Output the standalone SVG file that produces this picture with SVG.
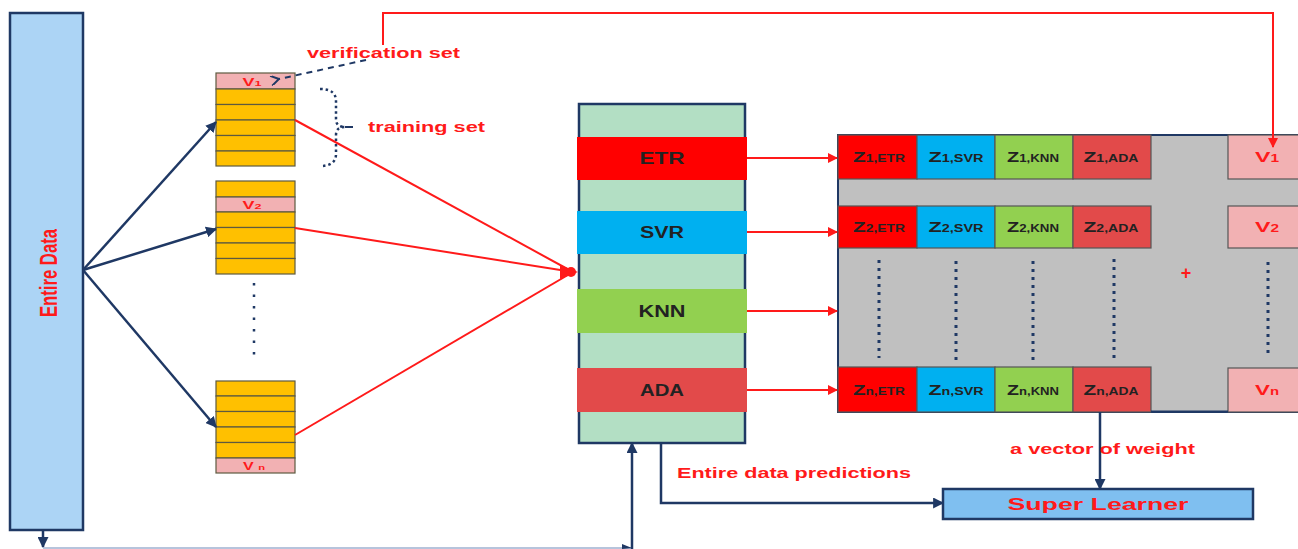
<svg xmlns="http://www.w3.org/2000/svg" width="1298" height="549" viewBox="0 0 1298 549">
<defs>
<style>
.nv{stroke:#1f3864;stroke-width:2.5;fill:none}
.rd{stroke:#ff1a1a;stroke-width:2;fill:none}
.cell{stroke:#5e5a40;stroke-width:1.2}
.y{fill:#ffc000}
.pk{fill:#f2b1b3}
.lbl{font-family:"Liberation Sans",Arial,sans-serif;font-weight:bold;fill:#ff1a1a}
.mdl{font-family:"Liberation Sans",Arial,sans-serif;font-weight:bold;font-size:16px;fill:#222;text-anchor:middle}
.z{font-family:"Liberation Sans",Arial,sans-serif;font-weight:bold;font-size:15px;fill:#222;text-anchor:middle}
.sub{font-size:10px}
.vt{font-family:"Liberation Sans",Arial,sans-serif;font-weight:bold;fill:#ff1a1a;text-anchor:middle}
.zc{stroke:#555;stroke-width:1.2}
.dot{stroke:#1f3864;stroke-width:3;stroke-dasharray:3 5;fill:none}
</style>
<marker id="an" viewBox="0 0 10 10" refX="9" refY="5" markerWidth="11" markerHeight="11" markerUnits="userSpaceOnUse" orient="auto"><path d="M0,0 L10,5 L0,10 Z" fill="#1f3864"/></marker>
<marker id="ar" viewBox="0 0 10 10" refX="9" refY="5" markerWidth="11" markerHeight="10" markerUnits="userSpaceOnUse" orient="auto"><path d="M0,0 L10,5 L0,10 Z" fill="#ff1a1a"/></marker>
<marker id="ao" viewBox="0 0 10 10" refX="1" refY="5" markerWidth="10" markerHeight="10" markerUnits="userSpaceOnUse" orient="auto"><path d="M9,0 L1,5 L9,10" fill="none" stroke="#1f3864" stroke-width="2"/></marker>
</defs>

<g id="entire-data">
<rect x="10" y="13" width="73" height="517" fill="#acd4f5" stroke="#1f3864" stroke-width="2.5"/>
<text class="lbl" transform="translate(57,273) rotate(-90)" text-anchor="middle" font-size="24" textLength="88" lengthAdjust="spacingAndGlyphs">Entire Data</text>
</g>

<g id="block1">
<rect class="pk cell" x="216" y="73" width="79" height="16"/>
<rect class="y cell" x="216" y="89" width="79" height="15.5"/>
<rect class="y cell" x="216" y="104.5" width="79" height="15.5"/>
<rect class="y cell" x="216" y="120" width="79" height="15.5"/>
<rect class="y cell" x="216" y="135.5" width="79" height="15.5"/>
<rect class="y cell" x="216" y="151" width="79" height="15"/>
<text class="vt" x="252" y="86" font-size="10" textLength="19" lengthAdjust="spacingAndGlyphs">V<tspan font-size="7">1</tspan></text>
</g>

<g id="block2">
<rect class="y cell" x="216" y="181" width="79" height="16"/>
<rect class="pk cell" x="216" y="197" width="79" height="15"/>
<rect class="y cell" x="216" y="212" width="79" height="15.5"/>
<rect class="y cell" x="216" y="227.5" width="79" height="15.5"/>
<rect class="y cell" x="216" y="243" width="79" height="15.5"/>
<rect class="y cell" x="216" y="258.5" width="79" height="15.5"/>
<text class="vt" x="252" y="209" font-size="10" textLength="19" lengthAdjust="spacingAndGlyphs">V<tspan font-size="7">2</tspan></text>
</g>

<g id="block-dots">
<line x1="254" y1="283" x2="254" y2="362" stroke="#1f3864" stroke-width="2.5" stroke-dasharray="2.5 9"/>
</g>

<g id="block3">
<rect class="y cell" x="216" y="381" width="79" height="15"/>
<rect class="y cell" x="216" y="396" width="79" height="15.5"/>
<rect class="y cell" x="216" y="411.5" width="79" height="15.5"/>
<rect class="y cell" x="216" y="427" width="79" height="15.5"/>
<rect class="y cell" x="216" y="442.5" width="79" height="15.5"/>
<rect class="pk cell" x="216" y="458" width="79" height="15"/>
<text class="vt" x="254" y="470" font-size="10" textLength="22" lengthAdjust="spacingAndGlyphs">V <tspan font-size="7">n</tspan></text>
</g>

<g id="labels-left">
<text class="lbl" x="307" y="58" font-size="15" textLength="153" lengthAdjust="spacingAndGlyphs">verification set</text>
<text class="lbl" x="368" y="132" font-size="15" textLength="117" lengthAdjust="spacingAndGlyphs">training set</text>
<path d="M320,89 Q336,89 336,101 L336,119 Q336,127 345,127 Q336,127 336,135 L336,154 Q336,166 320,166" stroke="#1f3864" stroke-width="2.5" stroke-dasharray="2.5 3" fill="none"/>
<line x1="345" y1="127" x2="353" y2="127" stroke="#1f3864" stroke-width="2"/>
</g>

<g id="models">
<rect x="579" y="104" width="166" height="339" fill="#b3dfc4" stroke="#1f3864" stroke-width="2.5"/>
<rect x="577" y="137" width="170" height="43" fill="#ff0000"/>
<rect x="577" y="211" width="170" height="43" fill="#00b0f0"/>
<rect x="577" y="289" width="170" height="44" fill="#92d050"/>
<rect x="577" y="368" width="170" height="44" fill="#e24a4a"/>
<text class="mdl" x="662" y="164" textLength="45" lengthAdjust="spacingAndGlyphs">ETR</text>
<text class="mdl" x="662" y="238" textLength="44" lengthAdjust="spacingAndGlyphs">SVR</text>
<text class="mdl" x="662" y="317" textLength="47" lengthAdjust="spacingAndGlyphs">KNN</text>
<text class="mdl" x="662" y="396" textLength="44" lengthAdjust="spacingAndGlyphs">ADA</text>
</g>

<g id="z-panel">
<rect x="838" y="135" width="470" height="277" fill="#c0c0c0" stroke="#1f3864" stroke-width="2"/>
<g>
<rect class="zc" x="838" y="135" width="79" height="44" fill="#ff0000"/>
<rect class="zc" x="917" y="135" width="78" height="44" fill="#00b0f0"/>
<rect class="zc" x="995" y="135" width="78" height="44" fill="#92d050"/>
<rect class="zc" x="1073" y="135" width="78" height="44" fill="#e24a4a"/>
<rect class="zc" x="1228" y="135" width="80" height="44" fill="#f2b1b3"/>
<rect class="zc" x="838" y="206" width="79" height="42" fill="#ff0000"/>
<rect class="zc" x="917" y="206" width="78" height="42" fill="#00b0f0"/>
<rect class="zc" x="995" y="206" width="78" height="42" fill="#92d050"/>
<rect class="zc" x="1073" y="206" width="78" height="42" fill="#e24a4a"/>
<rect class="zc" x="1228" y="206" width="80" height="42" fill="#f2b1b3"/>
<rect class="zc" x="838" y="367" width="79" height="45" fill="#ff0000"/>
<rect class="zc" x="917" y="367" width="78" height="45" fill="#00b0f0"/>
<rect class="zc" x="995" y="367" width="78" height="45" fill="#92d050"/>
<rect class="zc" x="1073" y="367" width="78" height="45" fill="#e24a4a"/>
<rect class="zc" x="1228" y="368" width="80" height="44" fill="#f2b1b3"/>
</g>
<line x1="1151" y1="411.5" x2="1228" y2="411.5" stroke="#1f3864" stroke-width="2"/>
<text class="z" x="879" y="162" textLength="52" lengthAdjust="spacingAndGlyphs">Z<tspan class="sub">1,ETR</tspan></text>
<text class="z" x="956" y="162" textLength="55" lengthAdjust="spacingAndGlyphs">Z<tspan class="sub">1,SVR</tspan></text>
<text class="z" x="1033" y="162" textLength="52" lengthAdjust="spacingAndGlyphs">Z<tspan class="sub">1,KNN</tspan></text>
<text class="z" x="1111" y="162" textLength="55" lengthAdjust="spacingAndGlyphs">Z<tspan class="sub">1,ADA</tspan></text>
<text class="z" x="879" y="232" textLength="52" lengthAdjust="spacingAndGlyphs">Z<tspan class="sub">2,ETR</tspan></text>
<text class="z" x="956" y="232" textLength="55" lengthAdjust="spacingAndGlyphs">Z<tspan class="sub">2,SVR</tspan></text>
<text class="z" x="1033" y="232" textLength="52" lengthAdjust="spacingAndGlyphs">Z<tspan class="sub">2,KNN</tspan></text>
<text class="z" x="1111" y="232" textLength="55" lengthAdjust="spacingAndGlyphs">Z<tspan class="sub">2,ADA</tspan></text>
<text class="z" x="879" y="395" textLength="52" lengthAdjust="spacingAndGlyphs">Z<tspan class="sub">n,ETR</tspan></text>
<text class="z" x="956" y="395" textLength="55" lengthAdjust="spacingAndGlyphs">Z<tspan class="sub">n,SVR</tspan></text>
<text class="z" x="1033" y="395" textLength="52" lengthAdjust="spacingAndGlyphs">Z<tspan class="sub">n,KNN</tspan></text>
<text class="z" x="1111" y="395" textLength="55" lengthAdjust="spacingAndGlyphs">Z<tspan class="sub">n,ADA</tspan></text>
<text class="vt" x="1267" y="162" font-size="15" textLength="24" lengthAdjust="spacingAndGlyphs">V<tspan font-size="10">1</tspan></text>
<text class="vt" x="1267" y="232" font-size="15" textLength="24" lengthAdjust="spacingAndGlyphs">V<tspan font-size="10">2</tspan></text>
<text class="vt" x="1267" y="395" font-size="15" textLength="24" lengthAdjust="spacingAndGlyphs">V<tspan font-size="10">n</tspan></text>
<line class="dot" x1="879" y1="260" x2="879" y2="358"/>
<line class="dot" x1="956" y1="261" x2="956" y2="360"/>
<line class="dot" x1="1033" y1="261" x2="1033" y2="360"/>
<line class="dot" x1="1114" y1="259" x2="1114" y2="358" stroke-dasharray="3 3"/>
<line class="dot" x1="1268" y1="262" x2="1268" y2="355"/>
<text class="lbl" x="1186" y="279" font-size="18" text-anchor="middle">+</text>
</g>

<g id="super-learner">
<rect x="943" y="489" width="310" height="30" fill="#7fbff0" stroke="#1f3864" stroke-width="2.5"/>
<text class="lbl" x="1098" y="510" font-size="17" text-anchor="middle" textLength="181" lengthAdjust="spacingAndGlyphs">Super Learner</text>
</g>

<g id="connectors">
<line class="nv" x1="83" y1="270" x2="216" y2="122" marker-end="url(#an)"/>
<line class="nv" x1="83" y1="270" x2="216" y2="229" marker-end="url(#an)"/>
<line class="nv" x1="83" y1="270" x2="216" y2="427" marker-end="url(#an)"/>
<path d="M366,60 L279,79" stroke="#1f3864" stroke-width="2" stroke-dasharray="6 5" fill="none" marker-end="url(#ao)"/>
<line class="rd" x1="295" y1="120" x2="573" y2="272"/>
<line class="rd" x1="295" y1="228" x2="573" y2="272"/>
<line class="rd" x1="295" y1="435" x2="573" y2="272"/>
<path d="M560,265 L578,272 L560,279 Z" fill="#ff1a1a"/>
<circle cx="571" cy="272" r="5" fill="#ff1a1a"/>
<line class="rd" x1="747" y1="158" x2="837" y2="158" marker-end="url(#ar)"/>
<line class="rd" x1="747" y1="232" x2="837" y2="232" marker-end="url(#ar)"/>
<line class="rd" x1="747" y1="311" x2="837" y2="311" marker-end="url(#ar)"/>
<line class="rd" x1="747" y1="390" x2="837" y2="390" marker-end="url(#ar)"/>
<path class="rd" d="M383,45 L383,13 L1273,13 L1273,147" marker-end="url(#ar)"/>
<line class="nv" x1="1100" y1="412" x2="1100" y2="489" marker-end="url(#an)"/>
<path class="nv" d="M661,443 L661,503 L943,503" marker-end="url(#an)"/>
<line class="nv" x1="43" y1="530" x2="43" y2="547" marker-end="url(#an)"/>
<line x1="43" y1="548" x2="632" y2="548" stroke="#9fb0d0" stroke-width="1.5"/>
<path d="M622,544 L632,548 L622,549 Z" fill="#1f3864"/>
<line class="nv" x1="632" y1="549" x2="632" y2="443" marker-end="url(#an)"/>
</g>

<g id="labels-right">
<text class="lbl" x="1010" y="454" font-size="15" textLength="185" lengthAdjust="spacingAndGlyphs">a vector of weight</text>
<text class="lbl" x="677" y="478" font-size="15" textLength="234" lengthAdjust="spacingAndGlyphs">Entire data predictions</text>
</g>
</svg>
